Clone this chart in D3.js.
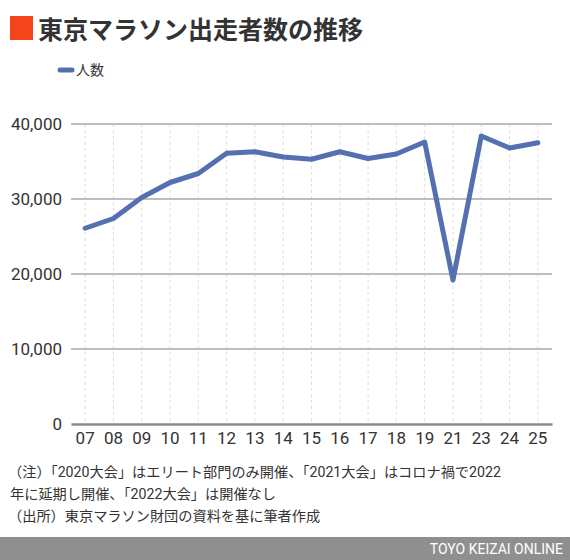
<!DOCTYPE html>
<html><head><meta charset="utf-8">
<script src="https://cdn.jsdelivr.net/npm/d3@7/dist/d3.min.js"></script>
<style>body{margin:0;background:#fff;}svg{display:block;}</style>
</head><body>
<script>
const categories = ["07","08","09","10","11","12","13","14","15","16","17","18","19","21","23","24","25"];
const runners = [26100,27400,30200,32200,33400,36100,36300,35600,35300,36300,35400,36000,37600,19200,38400,36800,37500];
const yTicks = [0,10000,20000,30000,40000];
const seriesName = "人数";
const title = "東京マラソン出走者数の推移";
const notes = ["（注）「2020大会」はエリート部門のみ開催、「2021大会」はコロナ禍で2022","年に延期し開催、「2022大会」は開催なし","（出所）東京マラソン財団の資料を基に筆者作成"];
const credit = "TOYO KEIZAI ONLINE";

const W=570,H=560;
const font = "Roboto, 'Noto Sans CJK JP', sans-serif";
const svg = d3.select("body").append("svg").attr("width",W).attr("height",H).style("font-family",font);

svg.append("rect").attr("x",10).attr("y",16).attr("width",23).attr("height",24).attr("fill","#f4441c");
svg.append("text").attr("x",38).attr("y",39).attr("font-size",25).attr("font-weight","bold").attr("fill","#333")
  .style("font-family","'Noto Sans CJK JP', sans-serif").text(title);

// legend
svg.append("line").attr("x1",60).attr("x2",72).attr("y1",70).attr("y2",70).attr("stroke","#5470b0").attr("stroke-width",5).attr("stroke-linecap","round");
svg.append("text").attr("x",76).attr("y",75).attr("font-size",14).attr("fill","#333").style("font-family","'Noto Sans CJK JP', sans-serif").text(seriesName);

const x = d3.scaleBand().domain(categories).range([71,552]);
const y = d3.scaleLinear().domain([0,40000]).range([424,124]);

const g = svg.append("g");
// vertical dashed grid
g.selectAll(".vg").data(categories).join("line")
  .attr("x1",d=>x(d)+x.bandwidth()/2).attr("x2",d=>x(d)+x.bandwidth()/2)
  .attr("y1",124).attr("y2",424).attr("stroke","#dedede").attr("stroke-width",1).attr("stroke-dasharray","3,3");
// horizontal grid
g.selectAll(".hg").data(yTicks.filter(d=>d>0)).join("line")
  .attr("x1",71).attr("x2",552).attr("y1",d=>y(d)).attr("y2",d=>y(d)).attr("stroke","#bdbdbd").attr("stroke-width",2);

// y axis
const yAxis = svg.append("g").attr("transform","translate(71,0)")
  .call(d3.axisLeft(y).tickValues(yTicks).tickSize(0).tickPadding(9).tickFormat(d3.format(",")));
yAxis.select(".domain").remove();
yAxis.selectAll("text").attr("font-size",17).attr("fill","#333").style("font-family",font);

// x axis
const xAxis = svg.append("g").attr("transform","translate(0,424)")
  .call(d3.axisBottom(x).tickSize(0).tickPadding(8));
xAxis.select(".domain").attr("stroke","#8a8a8a").attr("stroke-width",2.5);
xAxis.selectAll("text").attr("font-size",17).attr("fill","#333").style("font-family",font);

// line
const line = d3.line().x((d,i)=>x(categories[i])+x.bandwidth()/2).y(d=>y(d));
svg.append("path").datum(runners).attr("d",line).attr("fill","none").attr("stroke","#5470b0").attr("stroke-width",5).attr("stroke-linejoin","round").attr("stroke-linecap","round");

// notes
svg.selectAll(".note").data(notes).join("text")
  .attr("x",(d,i)=>i===1?10:8).attr("y",(d,i)=>477+i*22).attr("font-size",14.2).attr("fill","#333")
  .style("font-family",font).text(d=>d);

// footer
svg.append("rect").attr("x",0).attr("y",537).attr("width",W).attr("height",23).attr("fill","#8f8f8f");
svg.append("text").attr("x",563).attr("y",554).attr("text-anchor","end").attr("font-size",14).attr("fill","#fff").style("font-family",font).text(credit);
</script>
</body></html>
